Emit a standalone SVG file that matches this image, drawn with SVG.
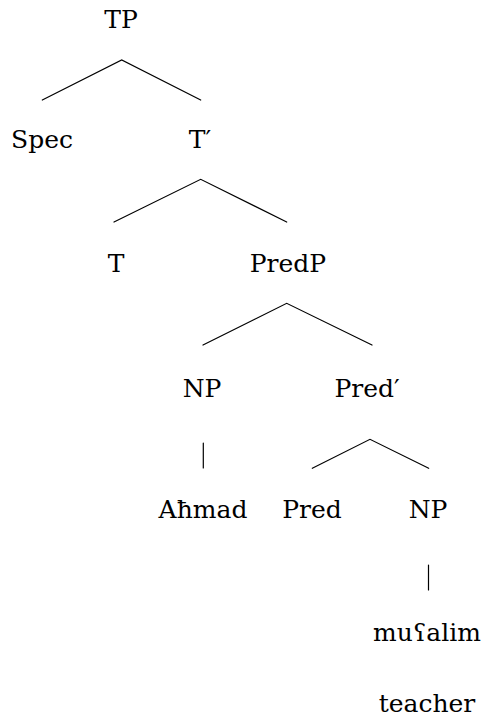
<svg xmlns="http://www.w3.org/2000/svg" width="485" height="721" viewBox="0 0 485 721">
<style>
.t{font-family:'DejaVu Serif','Liberation Serif',serif;font-size:25px;fill:#000;text-anchor:middle}
.e{stroke:#000;stroke-width:1.2;fill:none;stroke-linecap:round}
</style>
<rect width="485" height="721" fill="#fff"/>
<g id="connectors">
<polyline class="e" points="42.3,100 121.7,60 200.7,100"/>
<polyline class="e" points="114,222 200.7,179.3 286.7,222"/>
<polyline class="e" points="203,345 286.7,303.3 372,345"/>
<line class="e" x1="203.3" y1="443" x2="203.3" y2="468"/>
<polyline class="e" points="312.3,468.3 370,439.3 428.7,468.3"/>
<line class="e" x1="428.5" y1="565" x2="428.5" y2="590"/>
</g>
<g id="n-TP"><text class="t" x="121" y="28">TP</text></g>
<g id="n-Spec"><text class="t" x="42" y="148">Spec</text></g>
<g id="n-Tbar"><text class="t" x="200" y="148">T′</text></g>
<g id="n-T"><text class="t" x="116" y="272">T</text></g>
<g id="n-PredP"><text class="t" x="288" y="272">PredP</text></g>
<g id="n-NP1"><text class="t" x="202" y="397">NP</text></g>
<g id="n-Predbar"><text class="t" x="367" y="397">Pred′</text></g>
<g id="n-Ahmad"><text class="t" x="203" y="518">Aħmad</text></g>
<g id="n-Pred"><text class="t" x="312" y="518">Pred</text></g>
<g id="n-NP2"><text class="t" x="428" y="518">NP</text></g>
<g id="n-mualim"><text class="t" x="427" y="641">muʕalim</text></g>
<g id="n-teacher"><text class="t" x="427" y="712">teacher</text></g>
</svg>
